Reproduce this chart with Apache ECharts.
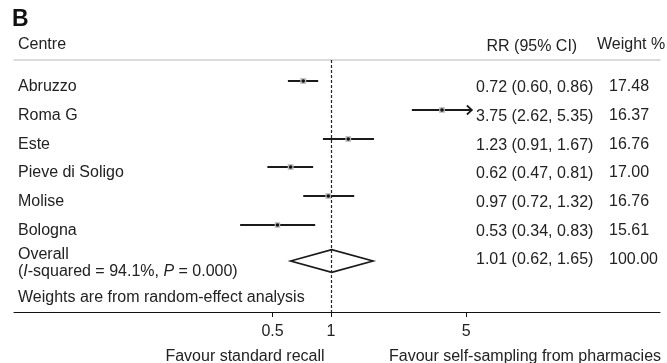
<!DOCTYPE html>
<html><head><meta charset="utf-8">
<script src="https://cdn.jsdelivr.net/npm/echarts@6/dist/echarts.min.js"></script>
<style>html,body{margin:0;padding:0;background:#fff}#c{width:667px;height:363px}</style>
</head><body><div id="c"></div>
<script>
// ---- data ----
const centres = ['Abruzzo', 'Roma G', 'Este', 'Pieve di Soligo', 'Molise', 'Bologna'];
const rr      = [0.72, 3.75, 1.23, 0.62, 0.97, 0.53];
const lower   = [0.60, 2.62, 0.91, 0.47, 0.72, 0.34];
const upper   = [0.86, 5.35, 1.67, 0.81, 1.32, 0.83];
const weights = [17.48, 16.37, 16.76, 17.00, 16.76, 15.61];
const overallRR = 1.01, overallLower = 0.62, overallUpper = 1.65, overallWeight = 100.00;
const overallLabel = 'Overall';
const i2Text = '94.1%', pText = '0.000';
const noteText = 'Weights are from random-effect analysis';
const tickValues = [0.5, 1, 5];
const favourLeft = 'Favour standard recall';
const favourRight = 'Favour self-sampling from pharmacies';
const headerCentre = 'Centre', headerRR = 'RR (95% CI)', headerWeight = 'Weight %';
const panelLetter = 'B';

// ---- layout / style ----
const FONT = 'Liberation Sans, Arial, Helvetica, sans-serif';
const FS = 16;
const TXT = '#222';
const OVERALL_ROW = 6.25;
const X_LABEL = 18, X_CI = 476, X_W = 609;

function ciText(e, l, u) { return e.toFixed(2) + ' (' + l.toFixed(2) + ', ' + u.toFixed(2) + ')'; }
function txt(x, y, s, extra) {
  return Object.assign({ type: 'text', x: x, y: y,
    style: Object.assign({ text: s, fill: TXT, fontSize: FS, fontFamily: FONT,
      verticalAlign: 'middle', align: 'left' }, extra || {}) });
}

const studyData = centres.map((c, i) => [i, rr[i], lower[i], upper[i], weights[i]]);
const maxTick = tickValues[tickValues.length - 1];

const chart = echarts.init(document.getElementById('c'), null, { renderer: 'canvas' });
chart.setOption({
  animation: false,
  backgroundColor: '#fff',
  textStyle: { fontFamily: FONT },
  grid: { left: 14, right: 7, top: 60, bottom: 51 },
  xAxis: [{
    type: 'log', logBase: 10, position: 'bottom', min: 0.0231, max: 50.1,
    axisLine: { show: true, onZero: false, lineStyle: { color: '#111', width: 1 } },
    axisTick: { show: true, customValues: tickValues, length: 5, lineStyle: { color: '#111', width: 1 } },
    axisLabel: { show: true, customValues: tickValues, fontSize: FS, color: TXT, fontFamily: FONT, margin: 12,
      formatter: v => String(v) },
    splitLine: { show: false }, minorTick: { show: false }
  }, {
    type: 'log', logBase: 10, position: 'top', min: 0.0231, max: 50.1,
    axisLine: { show: true, onZero: false, lineStyle: { color: '#cfcfcf', width: 1.5 } },
    axisTick: { show: false }, axisLabel: { show: false }, splitLine: { show: false }
  }],
  yAxis: { type: 'value', inverse: true, min: -0.73, max: 8.02, show: false, splitLine: { show: false } },
  series: [{
    type: 'custom', xAxisIndex: 0,
    data: studyData,
    renderItem: function (params, api) {
      const i = api.value(0), est = api.value(1), lo = api.value(2), hi = api.value(3), w = api.value(4);
      const pE = api.coord([est, i]), pL = api.coord([lo, i]), pH = api.coord([hi, i]);
      const y = Math.round(pE[1]);
      const ch = [];
      ch.push({ type: 'line', shape: { x1: pL[0], y1: y, x2: pH[0], y2: y }, style: { stroke: '#1a1a1a', lineWidth: 2 } });
      if (hi > maxTick) {
        ch.push({ type: 'polyline', shape: { points: [[pH[0] - 5, y - 4.5], [pH[0], y], [pH[0] - 5, y + 4.5]] },
          style: { stroke: '#1a1a1a', lineWidth: 1.7, fill: null } });
      }
      const s = 5.8 * Math.sqrt(w / 17);
      ch.push({ type: 'rect', shape: { x: pE[0] - s / 2, y: y - s / 2, width: s, height: s }, style: { fill: '#bdbdbd' } });
      ch.push({ type: 'circle', shape: { cx: pE[0], cy: y, r: 1.8 }, style: { fill: '#111' } });
      ch.push(txt(X_LABEL, y + 5.5, centres[i]));
      ch.push(txt(X_CI, y + 6.5, ciText(est, lo, hi)));
      ch.push(txt(X_W, y + 6, w.toFixed(2)));
      return { type: 'group', children: ch };
    },
    markLine: {
      silent: true, symbol: 'none', label: { show: false },
      lineStyle: { type: [3, 2], color: '#222', width: 1.2 },
      data: [{ xAxis: 1 }]
    }
  }, {
    type: 'custom', xAxisIndex: 0,
    data: [[OVERALL_ROW, overallRR, overallLower, overallUpper, overallWeight]],
    renderItem: function (params, api) {
      const r = api.value(0), est = api.value(1), lo = api.value(2), hi = api.value(3), w = api.value(4);
      const pE = api.coord([est, r]), pL = api.coord([lo, r]), pH = api.coord([hi, r]);
      const y = pE[1], h = 11.3;
      const ch = [];
      ch.push({ type: 'polygon', shape: { points: [[pL[0], y], [pE[0], y - h], [pH[0], y], [pE[0], y + h]] },
        style: { stroke: '#1a1a1a', lineWidth: 1.7, fill: 'rgba(255,255,255,0)' } });
      ch.push(txt(X_LABEL, y - 6, overallLabel));
      ch.push({ type: 'text', x: X_LABEL, y: y + 11,
        style: { text: '({it|I}-squared = ' + i2Text + ', {it|P} = ' + pText + ')', fill: TXT, fontSize: FS, fontFamily: FONT,
          verticalAlign: 'middle', align: 'left',
          rich: { it: { fontStyle: 'italic', fontSize: FS, fontFamily: FONT, fill: TXT } } } });
      ch.push(txt(X_LABEL, y + 37, noteText));
      ch.push(txt(X_CI, y - 1, ciText(est, lo, hi)));
      ch.push(txt(X_W, y - 1, w.toFixed(2)));
      return { type: 'group', children: ch };
    }
  }],
  graphic: [
    { type: 'text', left: 12, top: 8, style: { text: panelLetter, fill: '#111', fontSize: 23, fontWeight: 'bold', fontFamily: FONT } },
    txt(X_LABEL, 45, headerCentre),
    txt(486.5, 47, headerRR),
    txt(597, 45, headerWeight),
    txt(245, 357, favourLeft, { align: 'center' }),
    txt(525, 357, favourRight, { align: 'center' })
  ]
});
</script></body></html>
